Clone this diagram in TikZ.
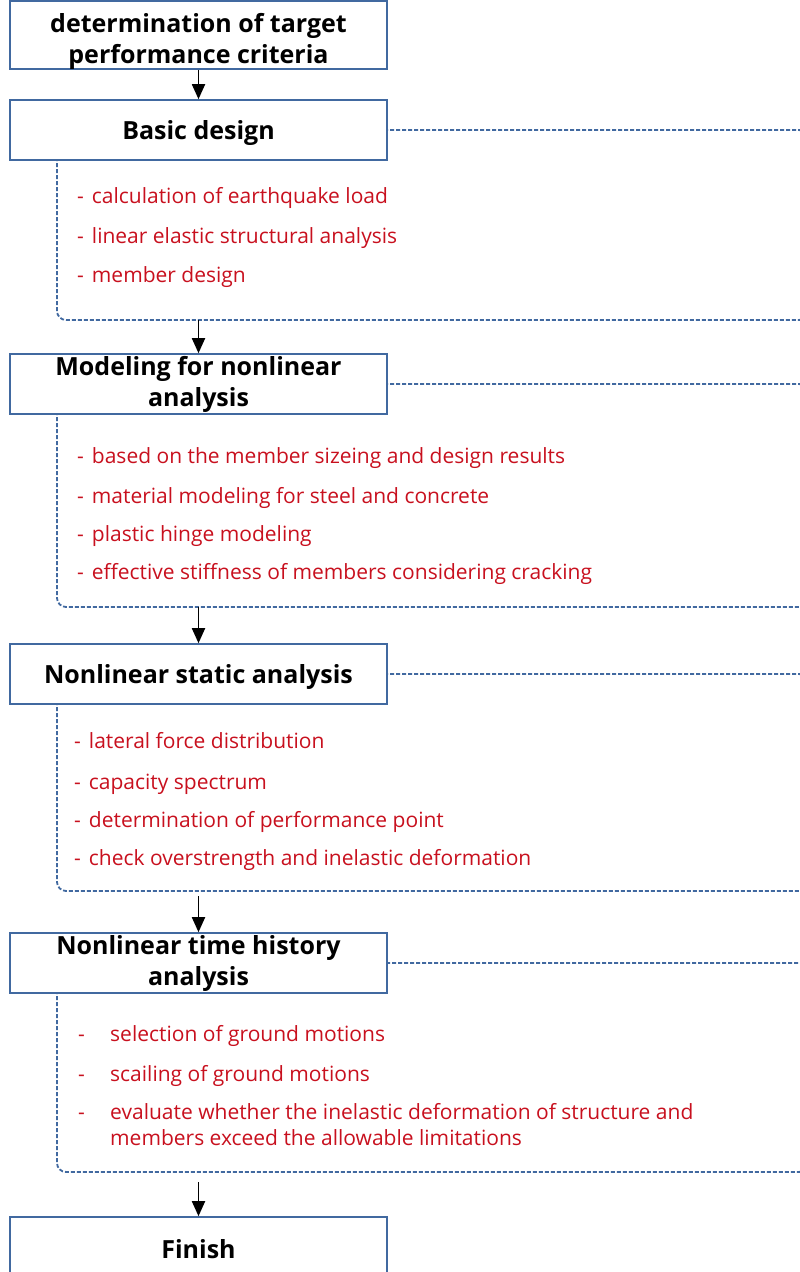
\documentclass[tikz,border=0pt]{standalone}
\usepackage{fontspec}
\setmainfont{Open Sans}
\usetikzlibrary{arrows.meta}

\definecolor{boxblue}{RGB}{65,105,160}
\definecolor{itemred}{RGB}{200,16,30}

\tikzset{
  stage/.style={draw=boxblue, line width=1.6pt, fill=white, minimum width=377pt,
    minimum height=60pt, inner sep=0pt, align=center,
    font=\fontsize{25}{31}\selectfont\bfseries,
    execute at begin node={\rule{0pt}{25pt}}},
  group/.style={draw=boxblue, line width=1.8pt, dash pattern=on 4pt off 2pt, rounded corners=9pt},
  item/.style={anchor=base west, inner sep=0pt, text=itemred, align=left,
    font=\fontsize{21}{26}\selectfont},
  flow/.style={-{Triangle[length=15pt,width=13pt]}, line width=1.8pt},
}
\newcommand{\dashitem}[1]{-\hspace{8pt}#1}
\newcommand{\tabitem}{\llap{\makebox[32pt][l]{-}}}

\begin{document}
\begin{tikzpicture}[x=1pt, y=-1pt]
\useasboundingbox (0,0) rectangle (800,1272);

% dashed groups first, the stages cover their top left part
\draw[group] (57,130) rectangle (808,320);
\draw[group] (57,384) rectangle (808,607);
\draw[group] (57,674) rectangle (808,891);
\draw[group] (57,963) rectangle (808,1172);
\coordinate (g2) at (198.5,320);
\coordinate (g3) at (198.5,607);
\coordinate (g4) at (198.5,896);
\coordinate (g5) at (198.5,1182);

% stages
\node[stage, minimum height=66pt] (crit) at (198.5,35) {\rule{0pt}{31pt}determination of target\\performance criteria};
\node[stage] (basic) at (198.5,130) {Basic design};
\node[stage] (model) at (198.5,384) {Modeling for nonlinear\\analysis};
\node[stage] (static) at (198.5,674) {Nonlinear static analysis};
\node[stage] (thist) at (198.5,963) {Nonlinear time history\\analysis};
\node[stage, minimum height=64pt, text depth=7pt] (finish) at (198.5,1249) {Finish};

% items of basic design
\node[item] (b1) at (77,203) {\dashitem{calculation of earthquake load}};
\node[item] (b2) at (77,243) {\dashitem{linear elastic structural analysis}};
\node[item] (b3) at (77,282) {\dashitem{member design}};

% items of modeling
\node[item] (m1) at (77,463) {\dashitem{based on the member sizeing and design results}};
\node[item] (m2) at (77,503) {\dashitem{material modeling for steel and concrete}};
\node[item] (m3) at (77,541) {\dashitem{plastic hinge modeling}};
\node[item] (m4) at (77,579) {\dashitem{effective stiffness of members considering cracking}};

% items of static analysis
\node[item] (s1) at (74,748) {\dashitem{lateral force distribution}};
\node[item] (s2) at (74,789) {\dashitem{capacity spectrum}};
\node[item] (s3) at (74,827) {\dashitem{determination of performance point}};
\node[item] (s4) at (74,865) {\dashitem{check overstrength and inelastic deformation}};

% items of time history analysis
\node[item] (t1) at (110,1041) {\tabitem selection of ground motions};
\node[item] (t2) at (110,1081) {\tabitem scailing of ground motions};
\node[item] (t3) at (110,1145) {\tabitem evaluate whether the inelastic deformation of structure and\\members exceed the allowable limitations};

% flow
\draw[flow] (crit) -- (basic);
\draw[flow] (g2) -- (model);
\draw[flow] (g3) -- (static);
\draw[flow] (g4) -- (thist);
\draw[flow] (g5) -- (finish);
\end{tikzpicture}
\end{document}
